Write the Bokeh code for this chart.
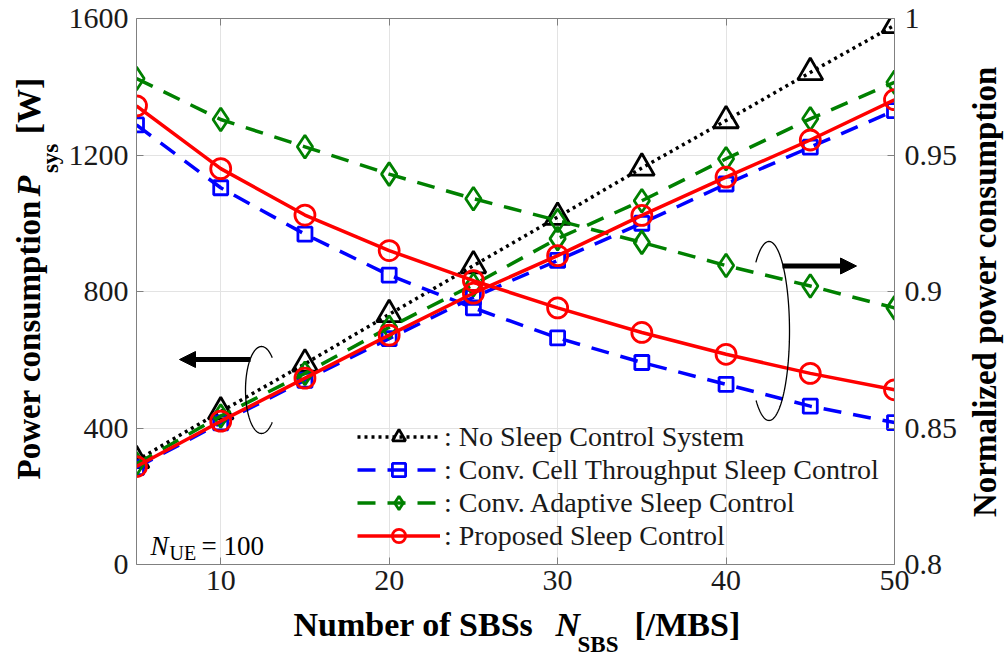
import numpy as np
from bokeh.plotting import figure
from bokeh.layouts import row, column
from bokeh.models import (Range1d, LinearAxis, FixedTicker, Label, Arrow, NormalHead,
                          Legend, LegendItem)
from bokeh.core.properties import value
from bokeh.embed import file_html
from bokeh.resources import INLINE

# ---------------- data ----------------
n_sbs = [5, 10, 15, 20, 25, 30, 35, 40, 45, 50]

power_nosleep = [305, 448, 588, 733, 876, 1018, 1162, 1301, 1442, 1580]
power_cell = [284, 415, 540, 662, 783, 891, 1000, 1115, 1223, 1330]
power_adaptive = [295, 435, 560, 695, 820, 955, 1066, 1189, 1306, 1413]
power_proposed = [287, 420, 546, 672, 795, 905, 1023, 1135, 1244, 1362]

norm_cell = [0.961, 0.938, 0.921, 0.906, 0.894, 0.883, 0.874, 0.866, 0.858, 0.852]
norm_adaptive = [0.978, 0.963, 0.953, 0.943, 0.934, 0.926, 0.918, 0.9095, 0.902, 0.894]
norm_proposed = [0.968, 0.945, 0.928, 0.915, 0.904, 0.894, 0.885, 0.877, 0.870, 0.864]

x_ticks = [10, 20, 30, 40, 50]
x_tick_labels = ["10", "20", "30", "40", "50"]
power_ticks = [0, 400, 800, 1200, 1600]
power_tick_labels = ["0", "400", "800", "1200", "1600"]
norm_ticks = [0.8, 0.85, 0.9, 0.95, 1.0]
norm_tick_labels = ["0.8", "0.85", "0.9", "0.95", "1"]

legend_labels = [": No Sleep Control System",
                 ": Conv. Cell Throughput Sleep Control",
                 ": Conv. Adaptive Sleep Control",
                 ": Proposed Sleep Control"]

# ---------------- layout (page pixels) ----------------
SERIF = "Liberation Serif"
AXC = "#808080"
TXT = "#1a1a1a"
X_RANGE = (5, 50)
Y_RANGE = (0, 1600)
N_RANGE = (0.8, 1.0)
FL, FT, FW, FH = 136, 18, 758, 546      # plot frame on the page
LEFT_W, RIGHT_W = 64, 40                # title strips left / right
MAIN_W = 900
MAIN_H = 604
BOTTOM_H = 59
MAIN_X0 = LEFT_W


def gx(px):
    return X_RANGE[0] + (px - FL) / FW * (X_RANGE[1] - X_RANGE[0])


def gy(py):
    return Y_RANGE[0] + (FT + FH - py) / FH * (Y_RANGE[1] - Y_RANGE[0])


p = figure(frame_width=FW, frame_height=FH,
           min_border_left=FL - MAIN_X0, min_border_right=MAIN_W - (FL - MAIN_X0) - FW,
           min_border_top=FT, min_border_bottom=MAIN_H - FT - FH,
           x_range=Range1d(*X_RANGE), y_range=Range1d(*Y_RANGE),
           output_backend="svg", toolbar_location=None)
p.extra_y_ranges = {"norm": Range1d(*N_RANGE)}
p.outline_line_color = None
p.background_fill_color = "white"
p.border_fill_color = "white"


def style_axis(ax, standoff):
    ax.axis_line_color = AXC
    ax.axis_line_width = 1
    ax.major_tick_line_color = AXC
    ax.major_tick_in = 7
    ax.major_tick_out = 0
    ax.minor_tick_line_color = None
    ax.major_label_text_font = SERIF
    ax.major_label_text_font_size = "30px"
    ax.major_label_text_color = TXT
    ax.major_label_standoff = standoff


p.xaxis.ticker = FixedTicker(ticks=x_ticks)
p.xaxis.major_label_overrides = dict(zip(x_ticks, x_tick_labels))
style_axis(p.xaxis[0], 6)
p.yaxis.ticker = FixedTicker(ticks=power_ticks)
p.yaxis.major_label_overrides = dict(zip(power_ticks, power_tick_labels))
style_axis(p.yaxis[0], 8)

right = LinearAxis(y_range_name="norm", ticker=FixedTicker(ticks=norm_ticks),
                   major_label_overrides=dict(zip(norm_ticks, norm_tick_labels)))
style_axis(right, 10)
p.add_layout(right, "right")

top = LinearAxis(ticker=FixedTicker(ticks=x_ticks),
                 major_label_overrides={t: "" for t in x_ticks})
style_axis(top, 0)
p.add_layout(top, "above")

p.xgrid.ticker = FixedTicker(ticks=x_ticks)
p.ygrid.ticker = FixedTicker(ticks=power_ticks)
for g in (p.xgrid[0], p.ygrid[0]):
    g.grid_line_color = "#e3e3e3"
    g.grid_line_width = 1

LW = 3.5
MLW = 2.8
series = [
    ("black", "3 4", "triangle", 25, [(power_nosleep, "default")]),
    ("#0000ff", "18 12", "square", 14, [(power_cell, "default"), (norm_cell, "norm")]),
    ("#008000", "18 12", "diamond", 23, [(power_adaptive, "default"), (norm_adaptive, "norm")]),
    ("#ff0000", "solid", "circle", 20, [(power_proposed, "default"), (norm_proposed, "norm")]),
]

items = []
for (color, dash, marker, size, curves), lab in zip(series, legend_labels):
    first = None
    for ys, rng in curves:
        ln = p.line(n_sbs, ys, line_color=color, line_width=LW, line_dash=dash,
                    y_range_name=rng)
        sc = p.scatter(n_sbs, ys, marker=marker, size=size, line_color=color,
                       line_width=MLW, fill_color=None, y_range_name=rng)
        if first is None:
            first = [ln, sc]
    items.append(LegendItem(label=lab, renderers=first))

legend = Legend(items=items, location=(221, 12), border_line_color=None,
                background_fill_alpha=0, label_text_font=SERIF,
                label_text_font_size="28px", label_text_color=TXT,
                glyph_width=83, glyph_height=33, label_height=33, spacing=0,
                padding=0, margin=0, label_standoff=4)
p.add_layout(legend)

# ---------------- annotations: ellipses & arrows ----------------


def ellipse_arc(cx, cy, rx, ry, a0, a1):
    t = np.radians(np.linspace(a0, a1, 160))
    return gx(cx + rx * np.cos(t)), gy(cy - ry * np.sin(t))


ex, ey = ellipse_arc(261, 389.5, 16, 43.5, 48, 312)
p.line(ex, ey, line_color="black", line_width=1.3)
ex, ey = ellipse_arc(768.5, 330.5, 20.5, 89.5, -129, 130)
p.line(ex, ey, line_color="black", line_width=1.3)

for (xs, ys, xe, ye) in [(250, 359, 179, 359), (782, 265.5, 856, 265.5)]:
    p.add_layout(Arrow(end=NormalHead(size=16, fill_color="black", line_color="black"),
                       x_start=gx(xs), y_start=gy(ys), x_end=gx(xe), y_end=gy(ye),
                       line_color="black", line_width=5))


def in_frame_label(text, px, py, size, style="normal"):
    p.add_layout(Label(x=gx(px), y=gy(py), text=text,
                       text_font=SERIF, text_font_size=f"{size}px",
                       text_font_style=style, text_color="black",
                       text_align="left", text_baseline="middle"))


# N_UE = 100
in_frame_label("N", 150, 545, 27, "italic")
in_frame_label("UE", 169, 552, 20)
in_frame_label("= 100", 201, 545, 27)

# ---------------- axis titles: strips around the main figure ----------------


def text_fig(w, h):
    f = figure(width=w, height=h, x_range=Range1d(0, w), y_range=Range1d(0, h),
               x_axis_location=None, y_axis_location=None, min_border=0,
               output_backend="svg", toolbar_location=None)
    f.outline_line_color = None
    f.grid.grid_line_color = None
    f.background_fill_color = "white"
    f.border_fill_color = "white"
    return f


def put(f, x0, y0, h, text, px, py, size, style="bold", angle=0.0, align="left"):
    f.text(x=[px - x0], y=[y0 + h - py], text=[text], angle=angle,
           text_font=value(SERIF), text_font_size=value(f"{size}px"),
           text_font_style=style, text_color="black",
           text_align=align, text_baseline="middle")


R = np.pi / 2
fig_left = text_fig(LEFT_W, MAIN_H)
put(fig_left, 0, 0, MAIN_H, "Power consumption", 28, 510, 33, angle=R)
put(fig_left, 0, 0, MAIN_H, "P", 28, 197, 34, "bold italic", angle=R)
put(fig_left, 0, 0, MAIN_H, "sys", 50, 171, 23, angle=R)
put(fig_left, 0, 0, MAIN_H, "[W]", 28, 128, 34, angle=R)

RX0 = LEFT_W + MAIN_W
fig_right = text_fig(RIGHT_W, MAIN_H)
put(fig_right, RX0, 0, MAIN_H, "Normalized power consumption", 984, 302, 33,
    angle=R, align="center")

fig_bottom = text_fig(LEFT_W + MAIN_W + RIGHT_W, BOTTOM_H)
put(fig_bottom, 0, MAIN_H, BOTTOM_H, "Number of SBSs", 293, 624, 34)
put(fig_bottom, 0, MAIN_H, BOTTOM_H, "N", 555, 624, 34, "bold italic")
put(fig_bottom, 0, MAIN_H, BOTTOM_H, "SBS", 577, 644, 23)
put(fig_bottom, 0, MAIN_H, BOTTOM_H, "[/MBS]", 634, 624, 34)

page = column(row(fig_left, p, fig_right, spacing=0), fig_bottom, spacing=0)

open("out.html", "w").write(file_html(page, INLINE))
